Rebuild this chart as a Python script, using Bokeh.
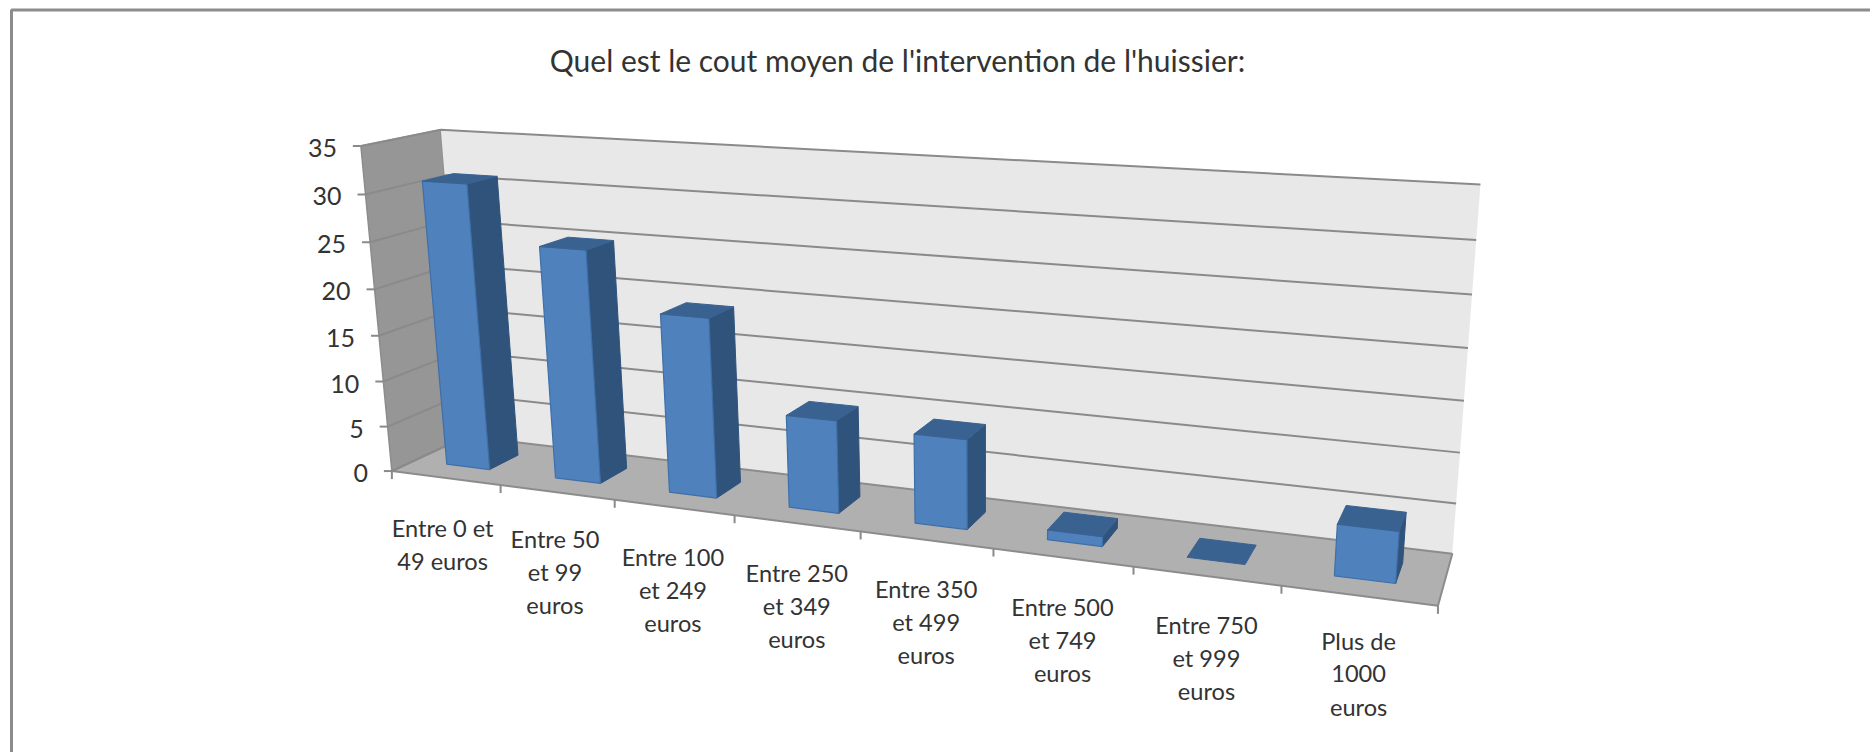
import numpy as np
from bokeh.plotting import figure
from bokeh.models import Range1d
from bokeh.core.properties import value
from bokeh.embed import file_html
from bokeh.resources import INLINE

TITLE = "Quel est le cout moyen de l'intervention de l'huissier:"
CATEGORY_LINES = [
    ["Entre 0 et", "49 euros"],
    ["Entre 50", "et 99", "euros"],
    ["Entre 100", "et 249", "euros"],
    ["Entre 250", "et 349", "euros"],
    ["Entre 350", "et 499", "euros"],
    ["Entre 500", "et 749", "euros"],
    ["Entre 750", "et 999", "euros"],
    ["Plus de", "1000", "euros"],
]
VALUES = [31, 25, 19, 9.7, 9.2, 1, 0, 5]
Y_TICKS = [0, 5, 10, 15, 20, 25, 30, 35]

# ---- camera calibration: (category position, value, depth) -> page pixel
front_tick_px = [390, 499.3, 613, 733.6, 860, 993.3, 1133.3, 1281.7, 1436.7]
front_value_px = [(390, 471), (386.2, 425.7), (382.5, 381), (378.7, 335), (374.7, 288.7),
                  (370.8, 241.7), (366.8, 194), (362.7, 144.3)]
back_right_px = [(1451.7, 552.7), (1455.7, 502.7), (1459.3, 452), (1463.3, 400), (1467.7, 348),
                 (1471.7, 294.3), (1476, 240), (1480, 184.3)]
anchors = []
for i, px in enumerate(front_tick_px):
    anchors.append(((i, 0, 0), (px, 471 + (px - 390) * 134 / 1046.7), 1))
for t, q in zip(Y_TICKS, front_value_px):
    anchors.append(((0, t, 0), q, 1))
for t, q in zip(Y_TICKS, back_right_px):
    anchors.append(((8, t, 1), q, 1))
anchors.append(((0, 35, 1), (440, 129.3), 4))
anchors.append(((0, 0, 1), (466, 435.7), 4))

rows = []
for (X, Y, Z), (u, v), w in anchors:
    P = [X, Y, Z, 1]
    rows.append([w * c for c in P] + [0, 0, 0, 0] + [-w * u * c for c in P])
    rows.append([0, 0, 0, 0] + [w * c for c in P] + [-w * v * c for c in P])
H = np.linalg.svd(np.array(rows, float))[2][-1].reshape(3, 4)


def proj(x, y, z):
    a = H @ np.array([x, y, z, 1.0])
    return float(a[0] / a[2]), float(a[1] / a[2])


def poly(corners):
    pts = [proj(*c) for c in corners]
    return [q[0] for q in pts], [q[1] for q in pts]


FONT = value("Lato")
TEXT_COLOR = "#333333"
GRID = "#8a8a8a"
GAP = 0.3
N = len(VALUES)
YMAX = Y_TICKS[-1]

p = figure(width=1870, height=752, output_backend="svg", toolbar_location=None,
           x_range=Range1d(0, 1870), y_range=Range1d(752, 0),
           x_axis_location=None, y_axis_location=None, min_border=0,
           outline_line_color=None, background_fill_color="white", border_fill_color="white")
p.grid.visible = False

# chart frame
p.line([11, 11, 1870], [752, 9.5, 9.5], line_color="#8c8c8c", line_width=3)

# walls and floor
xs, ys = poly([(0, 0, 0), (0, YMAX, 0), (0, YMAX, 1), (0, 0, 1)])
p.patch(xs, ys, fill_color="#969696", line_color="#8c8c8c", line_width=1.5)
xs, ys = poly([(0, 0, 1), (0, YMAX, 1), (N, YMAX, 1), (N, 0, 1)])
p.patch(xs, ys, fill_color="#e8e8e8", line_color=None)
xs, ys = poly([(0, 0, 0), (0, 0, 1), (N, 0, 1), (N, 0, 0)])
p.patch(xs, ys, fill_color="#b0b0b0", line_color="#8c8c8c", line_width=2)

# gridlines and ticks
for t in Y_TICKS:
    xs, ys = poly([(0, t, 0), (0, t, 1), (N, t, 1)])
    if t == 0:
        xs, ys = xs[:2], ys[:2]
    p.line(xs, ys, line_color=GRID, line_width=2)
    u, v = proj(0, t, 0)
    p.line([u - 8, u], [v, v], line_color=GRID, line_width=2)
    p.text([u - 24], [v + 2], text=[str(t)], text_font=FONT, text_font_size="25px", text_align="right",
           text_baseline="middle", text_color=TEXT_COLOR)
for i in range(N + 1):
    u, v = proj(i, 0, 0)
    p.line([u, u], [v, v + 8], line_color=GRID, line_width=2)

# bars
FRONT, SIDE, TOP = "#4f81bd", "#30537c", "#3a6291"
for i, val in enumerate(VALUES):
    a, b = i + GAP, i + 1 - GAP
    zf, zb = GAP, 1 - GAP
    if val > 0:
        xs, ys = poly([(b, 0, zf), (b, val, zf), (b, val, zb), (b, 0, zb)])
        p.patch(xs, ys, fill_color=SIDE, line_color=SIDE, line_width=1)
        xs, ys = poly([(a, 0, zf), (a, val, zf), (b, val, zf), (b, 0, zf)])
        p.patch(xs, ys, fill_color=FRONT, line_color="#3f6fa8", line_width=1.2)
    xs, ys = poly([(a, val, zf), (a, val, zb), (b, val, zb), (b, val, zf)])
    p.patch(xs, ys, fill_color=TOP, line_color=TOP, line_width=1)

# category labels
LINE_STEP = 32.8
LABEL_DROP = 49
LABEL_NUDGE_X = [-3, -2, -1, 0, 0, 0, 0, 0]
LABEL_NUDGE_Y = [1, -2, 1, 1, 0, 1, 0, -3.5]
for i, lines in enumerate(CATEGORY_LINES):
    u, v = proj(i + 0.5, 0, 0)
    for k, s in enumerate(lines):
        p.text([u + LABEL_NUDGE_X[i]], [v + LABEL_DROP + LABEL_NUDGE_Y[i] + k * LINE_STEP], text=[s], text_font=FONT,
               text_font_size="23.6px", text_align="center", text_baseline="middle", text_color=TEXT_COLOR)

p.text([897], [59], text=[TITLE], text_font=FONT, text_font_size="30px", text_align="center",
       text_baseline="middle", text_color=TEXT_COLOR)

open("out.html", "w").write(file_html(p, INLINE))
